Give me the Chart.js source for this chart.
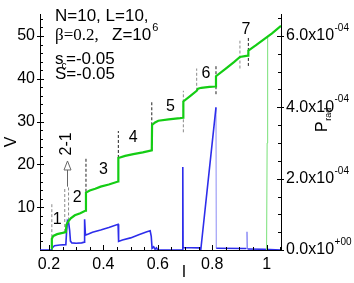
<!DOCTYPE html>
<html>
<head>
<meta charset="utf-8">
<script src="https://cdn.jsdelivr.net/npm/chart.js@4/dist/chart.umd.min.js"></script>
<style>
  html, body { margin: 0; padding: 0; background: #fff; }
  #wrap { width: 354px; height: 283px; }
</style>
</head>
<body>
<div id="wrap"><canvas id="chart" width="354" height="283"></canvas></div>
<script>
// ---- data ----

// V(I), main branch (left axis)
const vCurrent = [0.210, 0.2105, 0.216, 0.230, 0.250, 0.262, 0.264, 0.270, 0.280, 0.295, 0.315, 0.335,
                  0.336, 0.350, 0.370, 0.390, 0.420, 0.454, 0.455, 0.480, 0.510, 0.545, 0.578,
                  0.579, 0.590, 0.602, 0.640, 0.682, 0.693, 0.694, 0.720, 0.743, 0.748, 0.760, 0.790, 0.812,
                  0.814, 0.850, 0.880, 0.902, 0.920, 0.932, 0.933, 0.960, 0.990, 1.020, 1.053];
const vVoltage = [0.3, 2.6, 3.3, 3.7, 4.0, 4.2, 5.9, 6.6, 7.4, 8.1, 8.6, 9.2,
                  13.4, 13.9, 14.3, 14.8, 15.3, 16.0, 21.5, 22.0, 22.4, 22.8, 23.3,
                  29.2, 29.8, 30.2, 30.5, 30.8, 30.9, 34.7, 36.0, 37.2, 37.7, 37.9, 38.1, 38.2,
                  40.6, 42.4, 43.9, 45.1, 45.3, 45.4, 46.6, 47.8, 49.2, 50.6, 52.4];

// V(I), thin return branch near I = 1
const vBranchCurrent = [1.000, 1.002, 1.004];
const vBranchVoltage = [0, 25, 50.0];

// P_rad(I) in units of 1e-4 (right axis); null = gap
const pCurrent = [0.167, 0.209, 0.212, 0.220, 0.240, 0.262, 0.265, 0.268, 0.272, 0.276, 0.279, 0.284,
                  0.300, 0.320, 0.330, 0.331, 0.334, 0.345, 0.360, 0.390, 0.420, 0.454, 0.456,
                  0.470, 0.500, 0.530, 0.560, 0.572, 0.576, 0.579, 0.585, 0.590, 0.595, 0.600,
                  0.690, 0.692, 0.693, 0.755, 0.758, 0.814, 0.8145, 0.815, 0.925, 0.927, 0.930,
                  0.990, 1.053];
const pRad = [0, 0, 0.06, 0.12, 0.14, 0.15, 0.55, 0.82, 0.78, 0.55, 0.25, 0.20,
              0.19, 0.20, 0.22, 0.86, 0.42, 0.45, 0.50, 0.56, 0.63, 0.72, 0.24,
              0.28, 0.34, 0.43, 0.51, 0.54, 0.38, 0.05, 0.09, 0.02, 0.06, 0,
              0, 2.33, 0.07, 0.06, 0, 4.0, null, 0.05, 0.04, null, 0.03,
              0.02, 0];

// thin jumps of P_rad
const pThinCurrent = [0.814, 0.815, 0.920, 0.925, 0.928, 0.930];
const pThinRad = [4.0, 0.05, null, 0.04, 0.51, 0.03];

// dashed transition markers (I, V from, V to)
const dashCurrent = [0.2105, 0.258, 0.272, 0.336, 0.455, 0.578, 0.694, 0.743, 0.814, 0.902, 0.933];
const dashLow = [3.0, 4.2, 6.9, 13.6, 21.5, 23.3, 27.5, 37.2, 36.4, 42.4, 43.0];
const dashHigh = [10.7, 14.7, 14.7, 21.5, 27.8, 34.9, 37.2, 42.4, 43.2, 48.9, 49.6];

// stage numbers placed in data coordinates
const stageText = ['1', '2', '3', '4', '5', '6', '7'];
const stageCurrent = [0.2305, 0.304, 0.400, 0.510, 0.647, 0.777, 0.924];
const stageVoltage = [7.0, 12.3, 18.7, 26.3, 33.6, 41.1, 51.4];

// ticks
const xTickValues = [0.2, 0.4, 0.6, 0.8, 1.0];
const xTickLabels = ['0.2', '0.4', '0.6', '0.8', '1'];
const yTickValues = [10, 20, 30, 40, 50];
const yTickLabels = ['10', '20', '30', '40', '50'];
const y2TickValues = [0, 2e-4, 4e-4, 6e-4];
const y2TickLabels = ['0.0x10', '2.0x10', '4.0x10', '6.0x10'];
const y2TickExp = ['+00', '-04', '-04', '-04'];

// ---- styling ----
const SANS = '"Liberation Sans", Arial, Helvetica, sans-serif';
const SERIF = '"Liberation Serif", "Times New Roman", serif';
const GREEN = 'rgb(20,205,20)';
const BLUE = 'rgb(45,45,235)';
const grayDash = new Set([0, 1, 2, 6, 7, 9]);

function pts(xs, ys, k = 1) {
    return xs.map((x, i) => ({ x: x, y: ys[i] === null ? null : ys[i] * k }));
}
function tickList(min, max, step) {
    const out = [];
    const n = Math.round((max - min) / step);
    for (let i = 0; i <= n; i++) out.push(min + i * step);
    return out;
}
function labelFor(values, labels, v, tol) {
    const i = values.findIndex(t => Math.abs(t - v) < tol);
    return i < 0 ? '' : labels[i];
}

const datasets = [
    { data: pts(vCurrent, vVoltage), yAxisID: 'y', borderColor: GREEN, borderWidth: 2.2 },
    { data: pts(vBranchCurrent, vBranchVoltage), yAxisID: 'y', borderColor: 'rgb(120,225,120)', borderWidth: 1 },
    { data: pts(pCurrent, pRad, 1e-4), yAxisID: 'y2', borderColor: BLUE, borderWidth: 1.6 },
    { data: pts(pThinCurrent, pThinRad, 1e-4), yAxisID: 'y2', borderColor: 'rgb(140,140,245)', borderWidth: 1 }
];
dashCurrent.forEach((c, i) => {
    datasets.push({
        data: [{ x: c, y: dashLow[i] }, { x: c, y: dashHigh[i] }],
        yAxisID: 'y',
        borderColor: grayDash.has(i) ? '#8a8a8a' : '#222',
        borderWidth: 1,
        borderDash: [3, 2]
    });
});
datasets.forEach(d => { d.showLine = true; d.pointRadius = 0; d.spanGaps = false; d.fill = false; });

// inward tick marks, superscripts, titles and annotations
const decorations = {
    id: 'decorations',
    afterDraw(chart) {
        const { ctx, chartArea: a, scales: { x, y, y2 } } = chart;
        ctx.save();
        ctx.strokeStyle = '#000';
        ctx.lineWidth = 1;
        ctx.beginPath();
        x.ticks.forEach(t => {
            const major = labelFor(xTickValues, xTickLabels, t.value, 1e-6) !== '';
            const p = Math.round(x.getPixelForValue(t.value)) + 0.5;
            ctx.moveTo(p, a.bottom + (major ? 1 : 0));
            ctx.lineTo(p, a.bottom - (major ? 5 : 3));
        });
        y.ticks.forEach(t => {
            const major = labelFor(yTickValues, yTickLabels, t.value, 1e-6) !== '';
            const p = Math.round(y.getPixelForValue(t.value)) + 0.5;
            ctx.moveTo(a.left - (major ? 3 : 0), p);
            ctx.lineTo(a.left + (major ? 4 : 3), p);
        });
        y2.ticks.forEach(t => {
            const major = labelFor(y2TickValues, y2TickLabels, t.value, 1e-9) !== '';
            const p = Math.round(y2.getPixelForValue(t.value)) + 0.5;
            ctx.moveTo(a.right + (major ? 3 : 0), p);
            ctx.lineTo(a.right - (major ? 4 : 3), p);
        });
        ctx.stroke();

        ctx.fillStyle = '#000';
        // exponents on right axis labels
        y2TickValues.forEach((v, i) => {
            ctx.font = '16px ' + SANS;
            const w = ctx.measureText(y2TickLabels[i]).width;
            const p = y2.getPixelForValue(v);
            ctx.font = '10px ' + SANS;
            ctx.textAlign = 'left';
            ctx.textBaseline = 'alphabetic';
            ctx.fillText(y2TickExp[i], y2.left + 5 + w + 0.5, p - 5);
        });

        // axis titles
        ctx.font = '16px ' + SANS;
        ctx.textAlign = 'center';
        ctx.textBaseline = 'middle';
        ctx.save();
        ctx.translate(12, 142);
        ctx.rotate(-Math.PI / 2);
        ctx.fillText('V', 0, 0);
        ctx.restore();
        ctx.textBaseline = 'alphabetic';
        ctx.fillText('I', 184, 277);
        ctx.save();
        ctx.translate(327, 132);
        ctx.rotate(-Math.PI / 2);
        ctx.textAlign = 'left';
        ctx.fillText('P', 0, 0);
        const wP = ctx.measureText('P').width;
        ctx.font = '9px ' + SANS;
        ctx.fillText('rad', wP + 0.5, 4);
        ctx.restore();

        // stage numbers
        ctx.font = '16px ' + SANS;
        ctx.textAlign = 'center';
        ctx.textBaseline = 'middle';
        stageText.forEach((s, i) => {
            ctx.fillText(s, x.getPixelForValue(stageCurrent[i]), y.getPixelForValue(stageVoltage[i]));
        });

        // "2-1" arrow
        const ax = Math.round(x.getPixelForValue(0.265)) + 0.5;
        const aTail = y.getPixelForValue(14.8);
        const aTip = y.getPixelForValue(20.8);
        ctx.strokeStyle = '#666';
        ctx.beginPath();
        ctx.moveTo(ax, aTail);
        ctx.lineTo(ax, aTip + 9);
        ctx.moveTo(ax, aTip);
        ctx.lineTo(ax - 3.5, aTip + 9);
        ctx.lineTo(ax + 3.5, aTip + 9);
        ctx.closePath();
        ctx.stroke();
        ctx.save();
        ctx.translate(x.getPixelForValue(0.266), y.getPixelForValue(24.8));
        ctx.rotate(-Math.PI / 2);
        ctx.fillText('2-1', 0, 0);
        ctx.restore();

        // parameter block
        const L = 55;
        ctx.textAlign = 'left';
        ctx.textBaseline = 'alphabetic';
        ctx.font = '17px ' + SANS;
        ctx.fillText('N=10, L=10,', L, 21);
        ctx.font = '17px ' + SERIF;
        ctx.fillText('\u03b2=0.2,', L, 39.5);
        ctx.font = '17px ' + SANS;
        ctx.fillText('Z=10', 112, 39.5);
        const wZ = ctx.measureText('Z=10').width;
        ctx.font = '11px ' + SANS;
        ctx.fillText('6', 112 + wZ + 1, 31);
        ctx.font = '17px ' + SANS;
        ctx.fillText('s', L, 63.5);
        ctx.font = '10px ' + SANS;
        ctx.fillText('c', L + 6.5, 69);
        ctx.font = '17px ' + SANS;
        ctx.fillText('=-0.05', L + 11, 63.5);
        ctx.fillText('S=-0.05', L, 79);
        ctx.restore();
    }
};

const tickFont = { family: SANS, size: 16 };

new Chart(document.getElementById('chart'), {
    type: 'scatter',
    data: { datasets: datasets },
    options: {
        responsive: false,
        animation: false,
        devicePixelRatio: 1,
        layout: { padding: { top: 5, left: 0, right: 0, bottom: 0 } },
        plugins: { legend: { display: false }, tooltip: { enabled: false } },
        scales: {
            x: {
                type: 'linear', position: 'bottom', min: 0.167, max: 1.053,
                afterBuildTicks: s => { s.ticks = tickList(0.2, 1.05, 0.05).map(v => ({ value: v })); },
                afterFit: s => { s.height = 33; },
                grid: { display: true, drawOnChartArea: false, drawTicks: false },
                border: { display: true, color: '#000', width: 1 },
                ticks: {
                    autoSkip: false, maxRotation: 0, padding: 5, color: '#000', font: tickFont,
                    callback: v => labelFor(xTickValues, xTickLabels, v, 1e-6)
                }
            },
            y: {
                type: 'linear', position: 'left', min: 0, max: 55,
                afterBuildTicks: s => { s.ticks = tickList(0, 54, 2).map(v => ({ value: v })); },
                afterFit: s => { s.width = 40; },
                grid: { display: true, drawOnChartArea: false, drawTicks: false },
                border: { display: true, color: '#000', width: 1 },
                ticks: {
                    autoSkip: false, padding: 5, color: '#000', font: tickFont,
                    callback: v => labelFor(yTickValues, yTickLabels, v, 1e-6)
                }
            },
            y2: {
                type: 'linear', position: 'right', min: 0, max: 6.6e-4,
                afterBuildTicks: s => { s.ticks = tickList(0, 6.5e-4, 0.5e-4).map(v => ({ value: v })); },
                afterFit: s => { s.width = 73; },
                grid: { display: true, drawOnChartArea: false, drawTicks: false },
                border: { display: true, color: '#000', width: 1 },
                ticks: {
                    autoSkip: false, padding: 5, color: '#000', font: tickFont,
                    callback: v => labelFor(y2TickValues, y2TickLabels, v, 1e-9)
                }
            }
        }
    },
    plugins: [decorations]
});
</script>
</body>
</html>
